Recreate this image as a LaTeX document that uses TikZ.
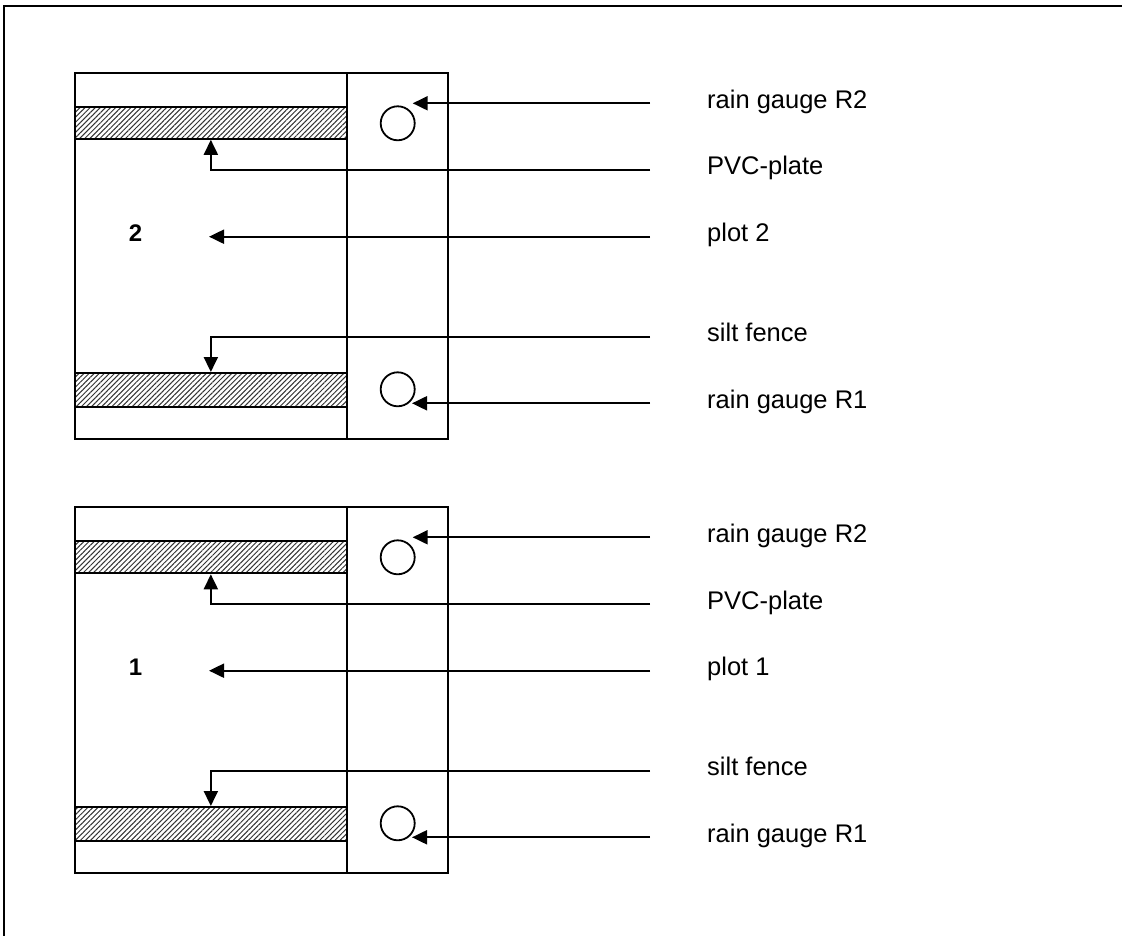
\documentclass[tikz,border=0pt]{standalone}
\usepackage{fontspec}
\setmainfont{Liberation Sans}
\usetikzlibrary{arrows.meta,patterns.meta}

\begin{document}
\begin{tikzpicture}[x=1pt,y=-1pt,
  wall/.style={line width=2pt},
  plate/.style={draw,wall,inner sep=0pt,minimum width=271.7pt,
    pattern={Lines[angle=45,distance=3.6pt,line width=1pt]},pattern color=black!80},
  gauge/.style={circle,draw,line width=1.8pt,minimum size=34pt,inner sep=0pt},
  pointer/.style={line width=2pt,-{Triangle[length=15pt,width=14pt]}},
  tag/.style={anchor=west,inner sep=0pt,text height=16pt,text depth=6pt,
    font=\fontsize{25.5}{30}\selectfont}]
  \useasboundingbox (0,0) rectangle (1122,936);

  % Draw the outer frame (only its top and left edges fall inside the page)
  \draw[line width=2.2pt] (1122,5.7) -- (4,5.7) -- (4,936);

  % One field plot with its gauges, plates and labels, repeated for plots 2 and 1
  \foreach \k/\dy in {2/0,1/434} {
    \begin{scope}[shift={(0,\dy)}]
      \draw[wall] (75,72.7) rectangle (448,439) (346.7,72.7) -- (346.7,439);
      \node[plate,minimum height=32.6pt] (plate\k) at (210.85,123) {};
      \node[plate,minimum height=33.7pt] (fence\k) at (210.85,389.85) {};
      \node[gauge] (gaugeTop\k) at (397.7,123.3) {};
      \node[gauge] (gaugeBot\k) at (397.7,389.3) {};
      \node[font=\fontsize{24}{28}\selectfont\bfseries] (num\k) at (135.5,233.5) {\k};
      \coordinate (field\k) at (209,236.7);

      % Labels on the right
      \node[tag] (lblGaugeTop\k) at (707,103.3) {rain gauge R2};
      \node[tag] (lblPlate\k) at (707,170) {PVC-plate};
      \node[tag] (lblPlot\k) at (707,236.7) {plot \k};
      \node[tag] (lblFence\k) at (707,336.7) {silt fence};
      \node[tag] (lblGaugeBot\k) at (707,403.3) {rain gauge R1};

      % Pointers from the labels
      \draw[pointer] ([xshift=-57pt]lblGaugeTop\k.west) -- ([shift={(15,-20)}]gaugeTop\k.center);
      \draw[pointer] ([xshift=-57pt]lblPlate\k.west) -| (plate\k.south);
      \draw[pointer] ([xshift=-57pt]lblPlot\k.west) -- (field\k);
      \draw[pointer] ([xshift=-57pt]lblFence\k.west) -| (fence\k.north);
      \draw[pointer] ([xshift=-57pt]lblGaugeBot\k.west) -- ([shift={(14.3,14)}]gaugeBot\k.center);
    \end{scope}
  }
\end{tikzpicture}
\end{document}
